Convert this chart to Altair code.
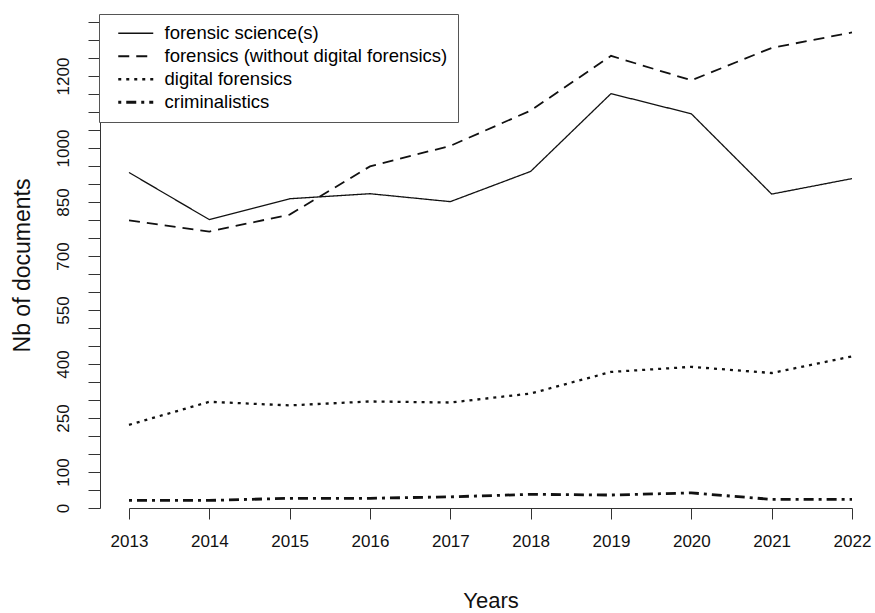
import altair as alt
import pandas as pd

years = [2013, 2014, 2015, 2016, 2017, 2018, 2019, 2020, 2021, 2022]
series_names = [
    "forensic science(s)",
    "forensics (without digital forensics)",
    "digital forensics",
    "criminalistics",
]
forensic_science = [932, 801, 859, 873, 851, 935, 1151, 1095, 872, 915]
forensics_no_digital = [799, 768, 815, 949, 1006, 1104, 1256, 1188, 1278, 1321]
digital_forensics = [231, 295, 285, 296, 293, 318, 378, 392, 375, 421]
criminalistics = [21, 21, 27, 27, 31, 38, 36, 42, 24, 24]

y_ticks = list(range(0, 1351, 50))
y_labels_shown = [0, 100, 250, 400, 550, 700, 850, 1000, 1200]

rows = []
for name, vals in zip(series_names, [forensic_science, forensics_no_digital, digital_forensics, criminalistics]):
    for yr, v in zip(years, vals):
        rows.append({"year": yr, "value": v, "series": name})
df = pd.DataFrame(rows)

FONT = "Liberation Sans"
shown = ",".join(str(v) for v in y_labels_shown)

chart = alt.Chart(df).mark_line(color="#111111").encode(
    x=alt.X(
        "year:Q",
        scale=alt.Scale(domain=[2013, 2022], nice=False, zero=False),
        axis=alt.Axis(
            title="Years",
            values=years,
            format="d",
            grid=False,
            tickSize=11,
            labelPadding=14,
            labelFlush=False,
            labelFontSize=17,
            titleFontSize=22,
            titleFontWeight="normal",
            titlePadding=41,
        ),
    ),
    y=alt.Y(
        "value:Q",
        scale=alt.Scale(domain=[0, 1350], nice=False),
        axis=alt.Axis(
            title="Nb of documents",
            values=y_ticks,
            format="d",
            labelExpr=f"indexof([{shown}], datum.value) >= 0 ? datum.label : ''",
            grid=False,
            offset=29,
            tickSize=12,
            labelAngle=270,
            labelAlign="center",
            labelBaseline="bottom",
            labelPadding=16,
            labelFontSize=17,
            labelOverlap=False,
            labelFlush=False,
            titleFontSize=23,
            titleFontWeight="normal",
            titlePadding=20,
        ),
    ),
    strokeDash=alt.StrokeDash(
        "series:N",
        scale=alt.Scale(
            domain=series_names,
            range=[[1, 0], [11, 7], [3, 5], [3, 5, 10, 5]],
        ),
        legend=alt.Legend(
            title=None,
            orient="none",
            legendX=-30,
            legendY=-8,
            fillColor="white",
            strokeColor="#555555",
            padding=10,
            labelFontSize=18.5,
            labelFont=FONT,
            labelOffset=37,
            symbolType="M0,0H7",
            symbolSize=100,
            symbolStrokeWidth=2.5,
            symbolStrokeColor="#111111",
            rowPadding=4,
            labelLimit=500,
        ),
    ),
    strokeWidth=alt.StrokeWidth(
        "series:N",
        scale=alt.Scale(domain=series_names, range=[1.3, 2.8, 2.8, 2.8]),
        legend=None,
    ),
).properties(
    width=723,
    height=486,
    autosize=alt.AutoSizeParams(type="none"),
    padding={"left": 129, "top": 22, "right": 23, "bottom": 105},
).configure_view(
    stroke=None
).configure_axis(
    labelFont=FONT,
    titleFont=FONT,
    labelColor="#111111",
    titleColor="#111111",
    domainColor="#333333",
    tickColor="#333333",
    domainWidth=1,
    tickWidth=1,
)

chart.save("out.html", embed_options={"renderer": "svg", "actions": False})
